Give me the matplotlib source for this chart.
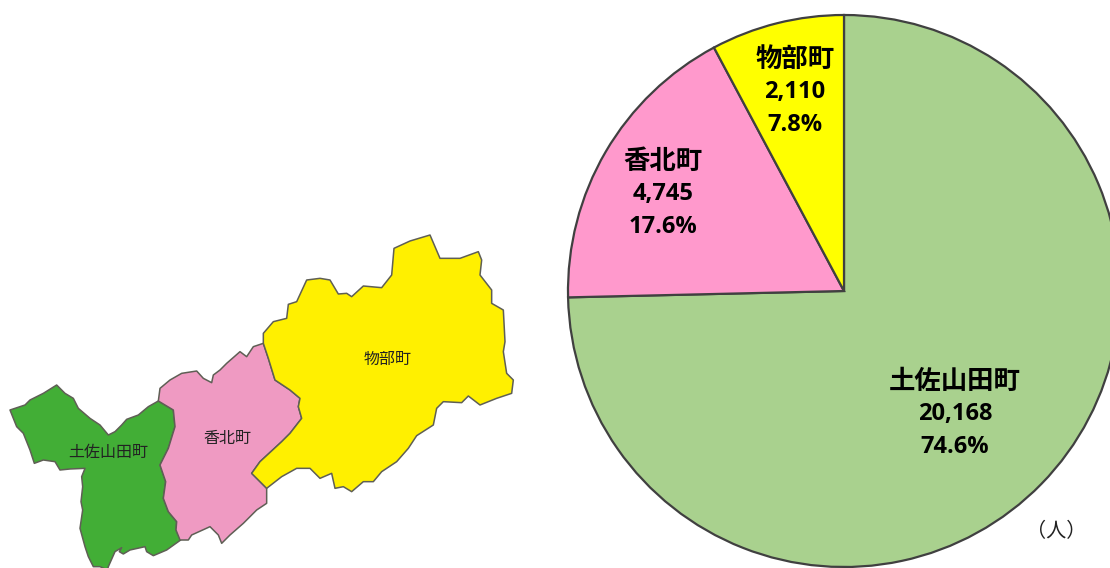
import matplotlib
matplotlib.use("Agg")
import matplotlib.pyplot as plt
import numpy as np

towns = ["土佐山田町", "香北町", "物部町"]
people = [20168, 4745, 2110]
people_labels = ["20,168", "4,745", "2,110"]
share_labels = ["74.6%", "17.6%", "7.8%"]
pie_colors = ["#A9D18E", "#FF99CC", "#FFFF00"]
map_colors = ["#42AE36", "#EF9AC2", "#FFF000"]

# outlines, in crop pixels (3x)
tosa_x = [30,75,90,130,170,195,220,235,270,300,325,345,365,380,415,445,475,520,525,505,480,497,490,505,530,528,542,500,460,440,435,390,370,358,365,345,325,322,300,280,265,255,240,248,243,248,245,255,210,180,165,130,103,90,70,50]
tosa_y = [120,105,90,70,45,70,85,115,145,165,195,185,165,148,135,110,93,120,170,235,285,335,385,425,455,480,510,540,557,545,530,540,552,545,533,545,590,600,590,590,560,530,475,420,395,350,320,295,297,300,275,270,280,240,190,170]
kami_x = [475,480,510,545,590,610,635,640,660,680,720,740,760,790,805,825,870,900,895,905,870,845,780,755,800,800,770,730,690,665,655,630,575,565,540,528,530,505,490,497,480,505,525,520]
kami_y = [93,55,30,10,3,25,38,15,0,-20,-55,-40,-70,-80,-35,30,60,85,110,145,190,215,275,310,355,400,420,460,495,520,495,470,495,510,510,480,455,425,385,335,285,235,170,120]
mono_x = [70,70,100,140,145,170,200,240,270,295,320,335,370,425,455,462,510,570,600,660,715,725,720,755,755,790,795,790,800,820,815,770,720,685,665,610,590,580,530,505,470,425,400,370,335,310,285,275,240,210,170,125,80,35,60,125,150,185,175,180,150,105,85]
mono_y = [355,325,290,280,238,230,165,160,165,207,205,215,183,188,150,70,48,30,100,100,80,105,150,195,235,255,350,380,445,465,505,520,540,513,533,530,550,600,632,670,710,740,770,770,800,785,790,745,760,730,730,755,790,745,710,650,625,580,545,520,495,465,400]

H = 568
fig = plt.figure(figsize=(11.1, 5.68), dpi=100)
ax = fig.add_axes([0, 0, 1, 1])

wedges, _ = ax.pie(people, colors=pie_colors, startangle=90, counterclock=False,
                   center=(844, H-291), radius=276,
                   wedgeprops=dict(edgecolor="#404040", linewidth=1.6))

# crop 1 starts at (0,370), crop 2 at (240,225)
def crop1(x, y):
    return np.array(x)/3, H-(370+np.array(y)/3)

def crop2(x, y):
    return 240+np.array(x)/3, H-(225+np.array(y)/3)

for (mx, my), col in zip([crop1(tosa_x, tosa_y), crop1(kami_x, kami_y), crop2(mono_x, mono_y)], map_colors):
    ax.fill(mx, my, facecolor=col, edgecolor="#5F5F55", linewidth=1.1, joinstyle="round")

ax.set_xlim(0, 1110)
ax.set_ylim(0, H)
ax.set_aspect("equal")
ax.axis("off")

cjk = "Noto Sans CJK JP"
pie_text_x = [955, 663, 795]
pie_text_y = [381, 161, 59]
for i in range(3):
    x = pie_text_x[i]
    y = pie_text_y[i]
    ax.text(x, H-y, towns[i], ha="center", va="center", family=cjk, fontweight="bold", fontsize=19)
    ax.text(x, H-y-33, people_labels[i], ha="center", va="center", family="Open Sans", fontweight="bold", fontsize=17)
    ax.text(x, H-y-66, share_labels[i], ha="center", va="center", family="Open Sans", fontweight="bold", fontsize=17)

map_text_x = [108, 227, 388]
map_text_y = [452, 439, 359]
for i in range(3):
    ax.text(map_text_x[i], H-map_text_y[i], towns[i], ha="center", va="center", family=cjk,
            fontsize=11.5, color="#222222")

ax.text(1056, H-532, "（人）", ha="center", va="center", family=cjk, fontsize=14.5, color="#222222")

fig.savefig("out.png", dpi=100)
